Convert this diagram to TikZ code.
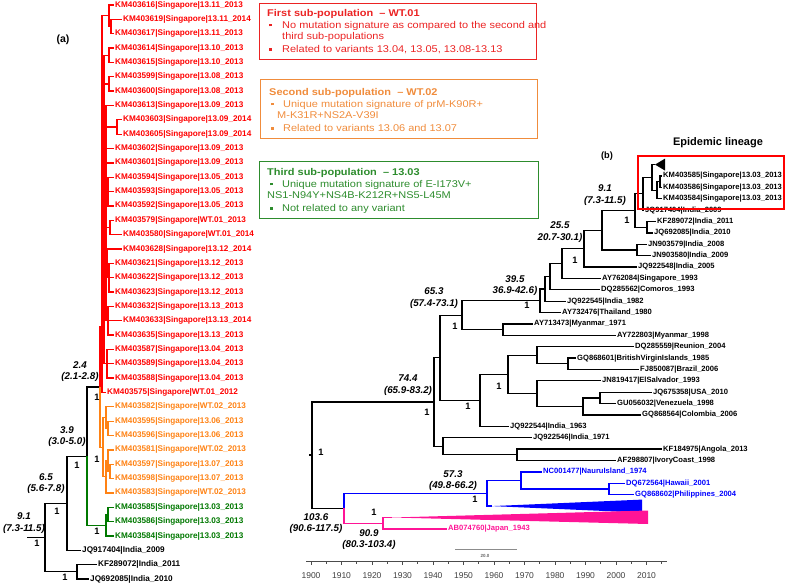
\documentclass[tikz,border=0pt]{standalone}
\usepackage{fontspec}
\setmainfont{Liberation Sans}
\newfontfamily\legfont[FakeStretch=1.12]{Liberation Sans}
\usetikzlibrary{positioning}
\definecolor{tred}{RGB}{255,0,0}
\definecolor{torange}{RGB}{255,130,20}
\definecolor{tgreen}{RGB}{0,120,0}
\definecolor{tblue}{RGB}{0,0,255}
\definecolor{tpink}{RGB}{255,20,150}
\definecolor{lred}{RGB}{235,35,35}
\definecolor{lorange}{RGB}{240,140,60}
\definecolor{lgreen}{RGB}{45,140,45}
\newcommand{\sqbul}{\raisebox{1.7pt}{\rule{2.6pt}{2.6pt}}}

\begin{document}
\begin{tikzpicture}[x=1pt, y=-1pt,
  br/.style={line width=1.3pt},
  tipa/.style={anchor=west, inner sep=1pt, font=\fontsize{8.2}{9.5}\selectfont\bfseries},
  tipb/.style={anchor=west, inner sep=1pt, font=\fontsize{7.6}{9}\selectfont\bfseries},
  age/.style={align=center, inner sep=0pt, font=\fontsize{9.8}{11.5}\selectfont\bfseries\itshape},
  post/.style={inner sep=0pt, font=\fontsize{9.3}{10}\selectfont\bfseries},
  panel/.style={inner sep=0pt, font=\fontsize{10.5}{12}\selectfont\bfseries},
  legbox/.style={draw, line width=0.8pt, anchor=north west, inner sep=0pt},
  legtext/.style={anchor=north west, align=left, inner sep=0pt,
                  font=\legfont\fontsize{9.8}{11.2}\selectfont},
  yr/.style={inner sep=0pt, text=black!75, font=\fontsize{8.5}{10}\selectfont},
]
\useasboundingbox (0,0) rectangle (787,586);

% (a) tree of the Singapore strains
\node[panel] (pa) at (63,40) {(a)};

\foreach \n/\x/\y/\t in {
  a1/114/5.0/KM403616|Singapore|13.11\_2013,
  a2/122/19.4/KM403619|Singapore|13.11\_2014,
  a3/114/33.7/KM403617|Singapore|13.11\_2013,
  a4/114/48.1/KM403614|Singapore|13.10\_2013,
  a5/114/62.4/KM403615|Singapore|13.10\_2013,
  a6/114/76.8/KM403599|Singapore|13.08\_2013,
  a7/114/91.1/KM403600|Singapore|13.08\_2013,
  a8/114/105.5/KM403613|Singapore|13.09\_2013,
  a9/122/119.8/KM403603|Singapore|13.09\_2014,
  a10/122/134.2/KM403605|Singapore|13.09\_2014,
  a11/114/148.5/KM403602|Singapore|13.09\_2013,
  a12/114/162.9/KM403601|Singapore|13.09\_2013,
  a13/114/177.2/KM403594|Singapore|13.05\_2013,
  a14/114/191.6/KM403593|Singapore|13.05\_2013,
  a15/114/205.9/KM403592|Singapore|13.05\_2013,
  a16/114/220.3/KM403579|Singapore|WT.01\_2013,
  a17/122/234.6/KM403580|Singapore|WT.01\_2014,
  a18/122/249.0/KM403628|Singapore|13.12\_2014,
  a19/114/263.3/KM403621|Singapore|13.12\_2013,
  a20/114/277.7/KM403622|Singapore|13.12\_2013,
  a21/114/292.0/KM403623|Singapore|13.12\_2013,
  a22/114/306.4/KM403632|Singapore|13.13\_2013,
  a23/122/320.7/KM403633|Singapore|13.13\_2014,
  a24/114/335.1/KM403635|Singapore|13.13\_2013,
  a25/114/349.4/KM403587|Singapore|13.04\_2013,
  a26/114/363.8/KM403589|Singapore|13.04\_2013,
  a27/114/378.1/KM403588|Singapore|13.04\_2013,
  a28/106/392.5/KM403575|Singapore|WT.01\_2012}
  \node[tipa, text=tred] (\n) at (\x,\y) {\t};

\foreach \n/\x/\y/\t in {
  a29/114/406.8/KM403582|Singapore|WT.02\_2013,
  a30/114/421.2/KM403595|Singapore|13.06\_2013,
  a31/114/435.5/KM403596|Singapore|13.06\_2013,
  a32/114/449.9/KM403581|Singapore|WT.02\_2013,
  a33/114/464.2/KM403597|Singapore|13.07\_2013,
  a34/114/478.6/KM403598|Singapore|13.07\_2013,
  a35/114/492.9/KM403583|Singapore|WT.02\_2013}
  \node[tipa, text=torange] (\n) at (\x,\y) {\t};

\foreach \n/\x/\y/\t in {
  a36/114/507.3/KM403585|Singapore|13.03\_2013,
  a37/114/521.6/KM403586|Singapore|13.03\_2013,
  a38/114/536.0/KM403584|Singapore|13.03\_2013}
  \node[tipa, text=tgreen] (\n) at (\x,\y) {\t};

\foreach \n/\x/\y/\t in {
  a39/81/550.3/JQ917404|India\_2009,
  a40/97/564.7/KF289072|India\_2011,
  a41/89/579.0/JQ692085|India\_2010}
  \node[tipa] (\n) at (\x,\y) {\t};

% internal nodes of (a)
\coordinate (rt) at (27,537.5);
\coordinate (n91) at (45,537.5);
\coordinate (n65) at (67,503.2);
\coordinate (nind) at (77,571.8);
\coordinate (n39) at (87,456.2);
\coordinate (n24) at (100,387.1);
\coordinate (r1) at (102,327);
\coordinate (r2) at (104,209.5);
\coordinate (r3) at (106,213);
\coordinate (g1) at (109,15.8);
\coordinate (g1b) at (111,26.5);
\coordinate (g2) at (109,55.2);
\coordinate (g3) at (109,83.9);
\coordinate (g5) at (117,127);
\coordinate (g7) at (108,191.5);
\coordinate (g8) at (110,227.4);
\coordinate (g9) at (107,263.3);
\coordinate (g9b) at (109,277.7);
\coordinate (g10) at (108,320.7);
\coordinate (g11) at (107,363.8);
\coordinate (o0) at (103,447.2);
\coordinate (o1) at (106,417.6);
\coordinate (o1a) at (108,428.3);
\coordinate (o2) at (106,476.8);
\coordinate (o2a) at (108,460.6);
\coordinate (o2b) at (110,471.4);
\coordinate (gr0) at (106,525.2);
\coordinate (gr1) at (108,514.4);

% branches of (a)
\draw[br] (rt) -- (n91);
\foreach \p/\c in {n91/n65, n91/nind, nind/a40.west, nind/a41.west,
                   n65/n39, n65/a39.west, n39/n24}
  \draw[br] (\p) |- (\c);
\foreach \p/\c in {n24/r1, r1/g1, r1/r2, r1/a28.west, g1/a1.west, g1/g1b,
                   g1b/a2.west, g1b/a3.west, r2/g2, r2/g3, r2/r3, r2/g11,
                   g2/a4.west, g2/a5.west, g3/a6.west, g3/a7.west,
                   r3/a8.west, r3/g5, r3/a11.west, r3/a12.west, r3/g7, r3/g8,
                   r3/g9, r3/g10, g5/a9.west, g5/a10.west,
                   g7/a13.west, g7/a14.west, g7/a15.west,
                   g8/a16.west, g8/a17.west, g9/a18.west, g9/g9b,
                   g9b/a19.west, g9b/a20.west, g9b/a21.west,
                   g10/a22.west, g10/a23.west, g10/a24.west,
                   g11/a25.west, g11/a26.west, g11/a27.west}
  \draw[br, tred] (\p) |- (\c);
\foreach \p/\c in {n24/o0, o0/o1, o0/o2, o1/a29.west, o1/o1a, o1a/a30.west,
                   o1a/a31.west, o2/o2a, o2/a35.west, o2a/a32.west, o2a/o2b,
                   o2b/a33.west, o2b/a34.west}
  \draw[br, torange] (\p) |- (\c);
\foreach \p/\c in {n39/gr0, gr0/gr1, gr0/a38.west, gr1/a36.west, gr1/a37.west}
  \draw[br, tgreen] (\p) |- (\c);

% ages and posteriors of (a)
\node[age] (t24) at (80,371.5) {2.4\\(2.1-2.8)};
\node[age] (t39) at (67,436.5) {3.9\\(3.0-5.0)};
\node[age] (t65) at (46,483.5) {6.5\\(5.6-7.8)};
\node[age] (t91) at (24,523) {9.1\\(7.3-11.5)};
\foreach \n/\x/\y in {p1/97/397, p2/97/459, p3/77/465, p4/57/511,
                      p5/97/531, p6/37/543, p7/65/577}
  \node[post] (\n) at (\x,\y) {1};

% sub-population boxes
\node[legbox, draw=lred, minimum width=277, minimum height=56] (box1) at (259,3) {};
\node[legtext, text=lred] (leg1) at (267,9.5) {%
  \textbf{First sub-population~ – WT.01}\\
  \hspace*{2pt}\sqbul\hspace{10.4pt}No mutation signature as compared to the second and\\
  \hspace*{15pt}third sub-populations\\[1.8pt]
  \hspace*{2pt}\sqbul\hspace{10.4pt}Related to variants 13.04, 13.05, 13.08-13.13};

\node[legbox, draw=lorange, minimum width=277, minimum height=59] (box2) at (260,79) {};
\node[legtext, text=lorange] (leg2) at (269,88.5) {%
  \textbf{Second sub-population~ – WT.02}\\
  \hspace*{2pt}\sqbul\hspace{9.4pt}Unique mutation signature of prM-K90R+\\
  \hspace*{8pt}M-K31R+NS2A-V39I\\[1.8pt]
  \hspace*{2pt}\sqbul\hspace{9.4pt}Related to variants 13.06 and 13.07};

\node[legbox, draw=lgreen, minimum width=279, minimum height=57] (box3) at (259,161) {};
\node[legtext, text=lgreen] (leg3) at (267,168.5) {%
  \textbf{Third sub-population~ – 13.03}\\
  \hspace*{3pt}\sqbul\hspace{9.4pt}Unique mutation signature of E-I173V+\\
  NS1-N94Y+NS4B-K212R+NS5-L45M\\[1.8pt]
  \hspace*{3pt}\sqbul\hspace{9.4pt}Not related to any variant};

% (b) dated tree
\node[panel, font=\fontsize{9.2}{11}\selectfont\bfseries] (pb) at (607,156) {(b)};

\foreach \n/\x/\y/\t in {
  b1/662/176.0/KM403585|Singapore|13.03\_2013,
  b2/662/187.4/KM403586|Singapore|13.03\_2013,
  b3/662/198.8/KM403584|Singapore|13.03\_2013,
  b4/644/210.1/JQ917404|India\_2009,
  b5/656/221.5/KF289072|India\_2011,
  b6/653/232.9/JQ692085|India\_2010,
  b7/647/244.3/JN903579|India\_2008,
  b8/651/255.7/JN903580|India\_2009,
  b9/637/267.0/JQ922548|India\_2005,
  b10/601/278.4/AY762084|Singapore\_1993,
  b11/600/289.8/DQ285562|Comoros\_1993,
  b12/566/301.2/JQ922545|India\_1982,
  b13/561/312.6/AY732476|Thailand\_1980,
  b14/533/323.9/AY713473|Myanmar\_1971,
  b15/616/335.3/AY722803|Myanmar\_1998,
  b16/634/346.7/DQ285559|Reunion\_2004,
  b17/576/358.1/GQ868601|BritishVirginIslands\_1985,
  b18/639/369.5/FJ850087|Brazil\_2006,
  b19/601/380.8/JN819417|ElSalvador\_1993,
  b20/652/392.2/JQ675358|USA\_2010,
  b21/616/403.6/GU056032|Venezuela\_1998,
  b22/641/415.0/GQ868564|Colombia\_2006,
  b23/509/426.4/JQ922544|India\_1963,
  b24/532/437.7/JQ922546|India\_1971,
  b25/662/449.1/KF184975|Angola\_2013,
  b26/616/460.5/AF298807|IvoryCoast\_1998}
  \node[tipb] (\n) at (\x,\y) {\t};
\foreach \n/\x/\y/\t in {
  b27/542/471.9/NC001477|NauruIsland\_1974,
  b28/625/483.3/DQ672564|Hawaii\_2001,
  b29/634/494.7/GQ868602|Philippines\_2004}
  \node[tipb, text=tblue] (\n) at (\x,\y) {\t};
\node[tipb, text=tpink] (b30) at (447,528.9) {AB074760|Japan\_1943};

% internal nodes of (b)
\coordinate (stub) at (309,455.1);
\coordinate (root) at (312,455.1);
\coordinate (n744) at (434,402);
\coordinate (n653) at (440,357.8);
\coordinate (n462) at (462,315.2);
\coordinate (n395) at (540,300.8);
\coordinate (n545) at (545,288.9);
\coordinate (n550) at (550,276.6);
\coordinate (n562) at (562,263.5);
\coordinate (n255) at (584,248.6);
\coordinate (n602) at (602,230.3);
\coordinate (m91) at (635,210.5);
\coordinate (n1) at (643,193.8);
\coordinate (e1) at (652,177.4);
\coordinate (etri) at (655,164.6);
\coordinate (e2) at (657,190.3);
\coordinate (e3) at (660,181.7);
\coordinate (kk) at (647,227.2);
\coordinate (jn) at (637,250);
\coordinate (my) at (503,329.6);
\coordinate (n480) at (480,400.4);
\coordinate (n508) at (508,374.4);
\coordinate (n537) at (537,355.3);
\coordinate (bv) at (568,363.8);
\coordinate (m537) at (537,393.6);
\coordinate (n583) at (583,406.5);
\coordinate (vz) at (600,397.9);
\coordinate (n443) at (443,446.3);
\coordinate (an) at (517,454.8);
\coordinate (n1036) at (344,508.3);
\coordinate (n573) at (487,493.3);
\coordinate (na) at (521,480.5);
\coordinate (hp) at (609,489);
\coordinate (btri) at (492,506.1);
\coordinate (n909) at (383,523.2);
\coordinate (ptri) at (392,517.5);

% branches of (b)
\draw[br] (stub) -- (root);
\foreach \p/\c in {root/n744, root/n1036, n744/n653, n744/n443,
                   n653/n462, n653/n480, n462/n395, n462/my,
                   my/b14.west, my/b15.west, n395/n545, n395/b13.west,
                   n545/n550, n545/b12.west, n550/n562, n550/b11.west,
                   n562/n255, n562/b10.west, n255/n602, n255/b9.west,
                   n602/m91, n602/jn, jn/b7.west, jn/b8.west,
                   m91/n1, m91/kk, kk/b5.west, kk/b6.west,
                   n1/e1, n1/b4.west, e1/etri, e1/e2, e2/e3, e2/b3.west,
                   e3/b1.west, e3/b2.west,
                   n480/n508, n480/b23.west, n508/n537, n508/m537,
                   n537/b16.west, n537/bv, bv/b17.west, bv/b18.west,
                   m537/b19.west, m537/n583, n583/vz, n583/b22.west,
                   vz/b20.west, vz/b21.west,
                   n443/b24.west, n443/an, an/b25.west, an/b26.west}
  \draw[br] (\p) |- (\c);
\foreach \p/\c in {n1036/n573, n573/na, n573/btri, na/b27.west, na/hp,
                   hp/b28.west, hp/b29.west}
  \draw[br, tblue] (\p) |- (\c);
\foreach \p/\c in {n1036/n909, n909/ptri, n909/b30.west}
  \draw[br, tpink] (\p) |- (\c);

% collapsed clades
\fill (etri) -- (665,158.6) -- (665,170.6) -- cycle;
\fill[tblue] (btri) -- (642,499.6) -- (642,512.6) -- cycle;
\fill[tpink] (ptri) -- (648,510.5) -- (648,524) -- cycle;

% ages and posteriors of (b)
\node[age] (u91) at (605,195) {9.1\\(7.3-11.5)};
\node[age] (u255) at (560,232) {25.5\\20.7-30.1)};
\node[age] (u395) at (515,285.5) {39.5\\36.9-42.6)};
\node[age] (u653) at (434,298) {65.3\\(57.4-73.1)};
\node[age] (u744) at (408,385) {74.4\\(65.9-83.2)};
\node[age] (u573) at (453,480.5) {57.3\\(49.8-66.2)};
\node[age] (u1036) at (316,523.5) {103.6\\(90.6-117.5)};
\node[age] (u909) at (369,539.5) {90.9\\(80.3-103.4)};
\foreach \n/\x/\y in {q1/627/220, q2/575/260, q3/527/305, q4/455/326,
                      q5/499/386, q6/468/406, q7/427/412, q8/321/452,
                      q9/475/499, q10/374/512}
  \node[post] (\n) at (\x,\y) {1};

% epidemic lineage
\node[draw=red, line width=2pt, anchor=north west, inner sep=0pt,
      minimum width=146, minimum height=53] (epi) at (637,155) {};
\node[inner sep=0pt, font=\fontsize{11}{13}\selectfont\bfseries] (epit) at (718,143) {Epidemic lineage};

% scale bar and time axis
\coordinate (sb1) at (455,549);
\coordinate (sb2) at (517,549);
\draw[line width=1pt, black!45] (sb1) -- (sb2);
\node[inner sep=0pt, text=black!60, font=\fontsize{4.5}{5}\selectfont\bfseries] (sbl) at (485,556) {20.0};

\coordinate (ax1) at (306,561);
\coordinate (ax2) at (667,561);
\draw[line width=0.9pt, black!70] (ax1) -- (ax2);
\foreach \yr [evaluate=\yr as \xx using 311+3.05*(\yr-1900)] in {1900,1910,...,2010} {
  \draw[line width=0.8pt, black!70] (\xx,561) -- (\xx,565);
  \draw[line width=0.6pt, black!70] (\xx+15.25,561) -- (\xx+15.25,563.5);
  \node[yr] (y\yr) at (\xx,576) {\yr};
}
\end{tikzpicture}
\end{document}
